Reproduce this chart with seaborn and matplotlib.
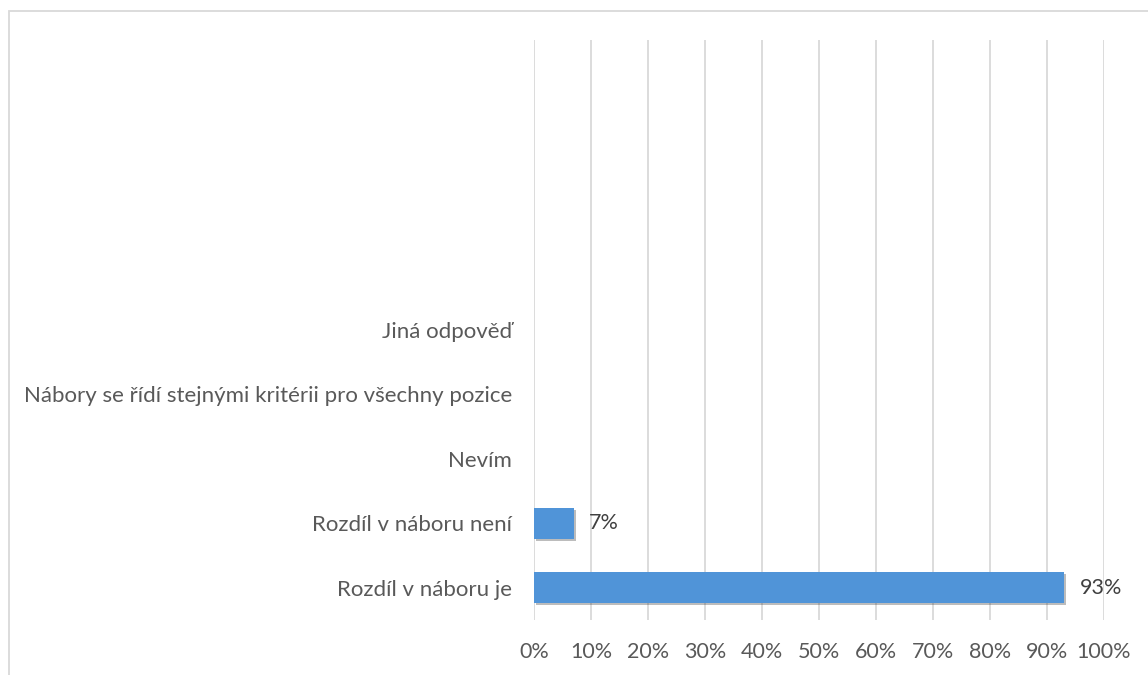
import matplotlib
matplotlib.use("Agg")
import matplotlib.pyplot as plt
import matplotlib.patheffects as pe
from matplotlib.patches import Rectangle
from matplotlib.ticker import PercentFormatter
import numpy as np
import pandas as pd
import seaborn as sns

# Data (top to bottom, as in the chart; the top four slots are empty categories)
categories = [" ", "  ", "   ", "    ",
              "Jiná odpověď",
              "Nábory se řídí stejnými kritérii pro všechny pozice",
              "Nevím",
              "Rozdíl v náboru není",
              "Rozdíl v náboru je"]
values = [np.nan, np.nan, np.nan, np.nan, np.nan, np.nan, np.nan, 0.07, 0.93]
x_ticks = [0.0, 0.1, 0.2, 0.3, 0.4, 0.5, 0.6, 0.7, 0.8, 0.9, 1.0]

sns.set_theme(style="white")
plt.rcParams['font.family'] = ['Lato', 'DejaVu Sans']

W, H = 1148, 675
fig = plt.figure(figsize=(W / 100, H / 100), dpi=100)
fig.patch.set_facecolor("white")

# outer chart-area border (cropped on the right and bottom)
fig.patches.append(Rectangle((9 / W, -0.1), 1.2, 1 - 11 / H + 0.1,
                             transform=fig.transFigure, fill=False,
                             edgecolor="#d9d9d9", linewidth=1.3))

ax = fig.add_axes([534 / W, 1 - 620 / H, 570 / W, 580 / H])

df = pd.DataFrame({"cat": categories, "val": values})
sns.barplot(data=df, x="val", y="cat", order=categories, orient="h",
            color="#5094d8", saturation=1, width=0.48, ax=ax, zorder=3)

for p in ax.patches:
    p.set_linewidth(0)
    p.set_path_effects([pe.SimplePatchShadow(offset=(1.5, -1.5), shadow_rgbFace="#404040", alpha=0.35),
                        pe.Normal()])

ax.set_xlim(0, 1)
ax.set_xticks(x_ticks)
ax.xaxis.set_major_formatter(PercentFormatter(1.0, decimals=0))
ax.set_xlabel("")
ax.set_ylabel("")
ax.grid(axis="x", color="#d9d9d9", linewidth=1.3, zorder=0)
ax.grid(axis="y", visible=False)
for s in ax.spines.values():
    s.set_visible(False)
ax.tick_params(axis="x", length=0, pad=16, labelsize=15.5, labelcolor="#595959")
ax.tick_params(axis="y", length=0, pad=16, labelsize=16, labelcolor="#595959")

for i, v in enumerate(values):
    if not np.isnan(v):
        ax.text(v + 0.027, i, f"{v * 100:.0f}%", va="center", ha="left",
                fontsize=15.5, color="#404040")

fig.savefig("out.png", dpi=100, facecolor="white")
